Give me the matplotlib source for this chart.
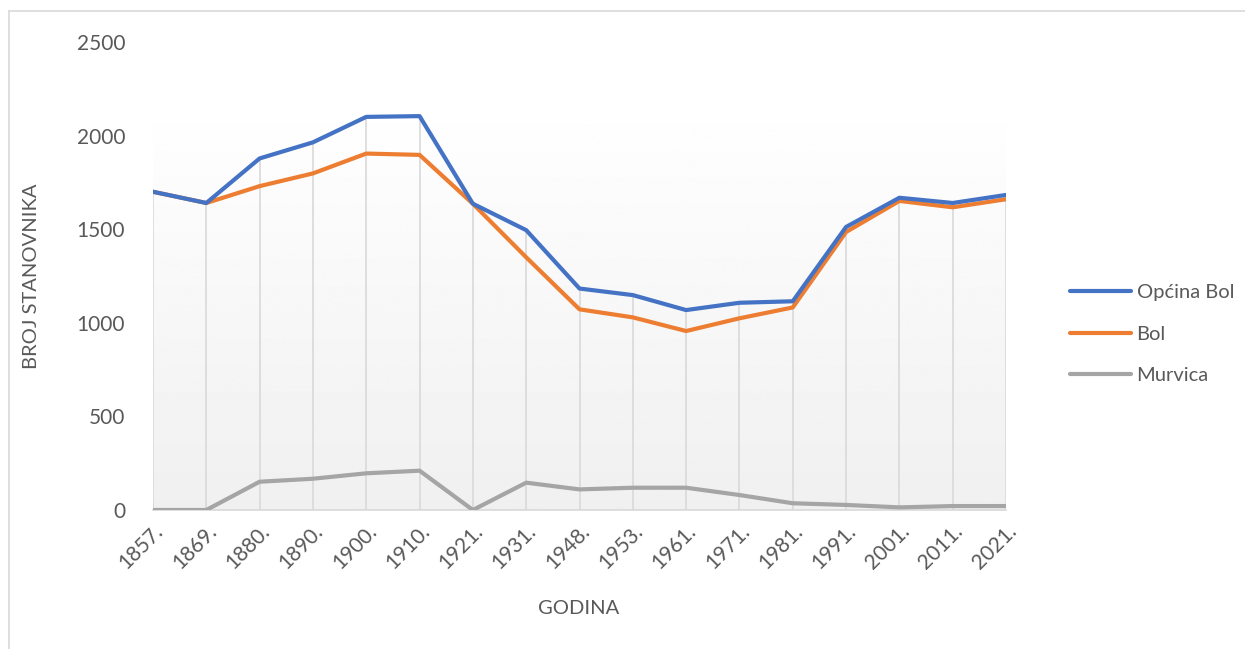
import numpy as np
import matplotlib.pyplot as plt
from matplotlib.lines import Line2D

plt.rcParams['font.family'] = ['Lato', 'DejaVu Sans']

# census data
years = ['1857.', '1869.', '1880.', '1890.', '1900.', '1910.', '1921.', '1931.',
         '1948.', '1953.', '1961.', '1971.', '1981.', '1991.', '2001.', '2011.', '2021.']
opcina_bol = [1700, 1640, 1878, 1964, 2100, 2104, 1636, 1495, 1183, 1148, 1068, 1107, 1115, 1512, 1668, 1640, 1683]
bol = [1700, 1640, 1730, 1798, 1904, 1897, 1636, 1350, 1072, 1029, 956, 1024, 1082, 1485, 1651, 1617, 1660]
murvica = [0, 0, 151, 167, 196, 210, 0, 146, 110, 119, 119, 80, 36, 27, 14, 21, 21]

W, H = 1245, 649
fig = plt.figure(figsize=(W / 100, H / 100), dpi=100)
ax = fig.add_axes([153 / W, 1 - 510 / H, (1006 - 153) / W, (510 - 42) / H])

x = np.arange(len(years))
txt = '#595959'

# gradient plot-area fill (white on top -> light gray at bottom)
grad = np.linspace(0.94, 1.0, 256).reshape(-1, 1)
ax.imshow(grad, extent=[0, len(years) - 1, 0, 2206], origin='lower', cmap='gray',
          vmin=0, vmax=1, aspect='auto', zorder=0)

# drop lines
tops = np.maximum.reduce([opcina_bol, bol, murvica])
ax.vlines(x, 0, tops, color='#d9d9d9', lw=1.2, zorder=1)

ax.plot(x, murvica, color='#a5a5a5', lw=3, solid_capstyle='round', zorder=3)
ax.plot(x, bol, color='#ed7d31', lw=3, solid_capstyle='round', zorder=4)
ax.plot(x, opcina_bol, color='#4472c4', lw=3, solid_capstyle='round', zorder=5)

ax.set_xlim(0, len(years) - 1)
ax.set_ylim(0, 2500)
ax.set_yticks(range(0, 2501, 500))
ax.set_xticks(x)
ax.set_xticklabels(years, rotation=45, ha='right', rotation_mode='anchor')
ax.tick_params(axis='both', length=0, labelsize=15, colors=txt)
ax.tick_params(axis='y', pad=20)
ax.tick_params(axis='x', pad=8)
for s in ['top', 'right', 'left']:
    ax.spines[s].set_visible(False)
ax.spines['bottom'].set_color('#d9d9d9')
ax.spines['bottom'].set_linewidth(1.2)
ax.set_facecolor('none')

fig.text(32 / W, 1 - 276 / H, 'BROJ STANOVNIKA', rotation=90, ha='center', va='center',
         fontsize=14.5, color=txt)
fig.text(579 / W, 1 - 608 / H, 'GODINA', ha='center', va='center', fontsize=14.5, color=txt)

handles = [Line2D([], [], color='#4472c4', lw=3, solid_capstyle='round'),
           Line2D([], [], color='#ed7d31', lw=3, solid_capstyle='round'),
           Line2D([], [], color='#a5a5a5', lw=3, solid_capstyle='round')]
fig.legend(handles, ['Općina Bol', 'Bol', 'Murvica'], loc='center left',
           bbox_to_anchor=(1052 / W, 1 - 334 / H), frameon=False, fontsize=14.5,
           labelcolor=txt, handlelength=3.0, handletextpad=0.3, labelspacing=1.2)

# chart border
fig.add_artist(Line2D([8.5 / W, 8.5 / W], [0, 1 - 11 / H], color='#d9d9d9', lw=1.2))
fig.add_artist(Line2D([8.5 / W, 1], [1 - 11 / H, 1 - 11 / H], color='#d9d9d9', lw=1.2))

fig.savefig('out.png', dpi=100)
